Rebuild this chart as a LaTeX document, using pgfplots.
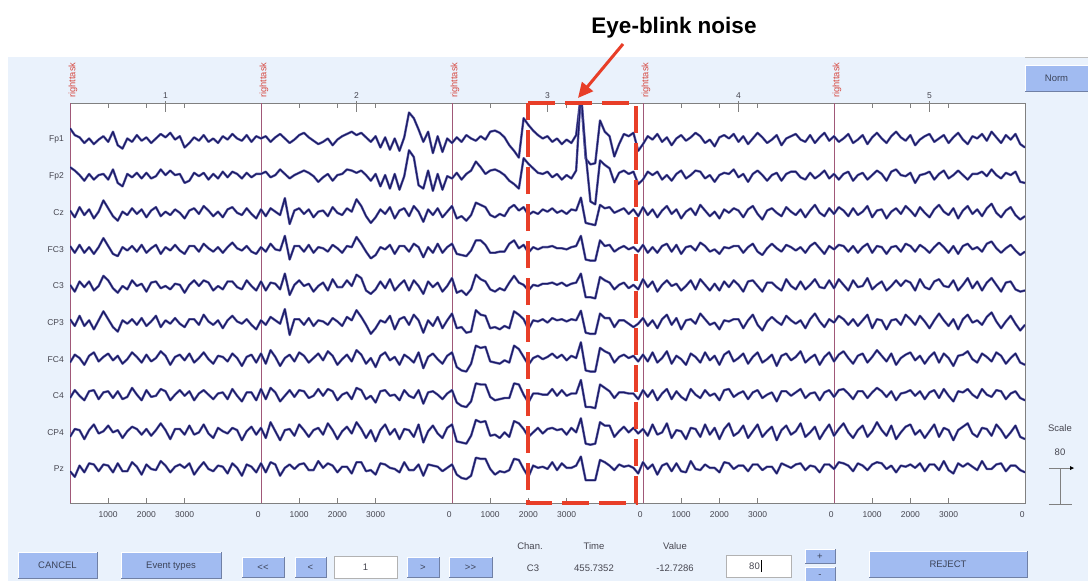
\documentclass[border=0pt]{standalone}
\usepackage{fontspec}
\setmainfont{Liberation Sans}
\usepackage{pgfplots}
\pgfplotsset{compat=1.18}
\usepackage{pgfplotstable}
\usetikzlibrary{arrows.meta}

\definecolor{cPanel}{RGB}{234,242,252}
\definecolor{cBtn}{RGB}{161,187,241}
\definecolor{cBtnEdge}{RGB}{112,128,165}
\definecolor{cBtnText}{RGB}{60,68,90}
\definecolor{cTrace}{RGB}{26,26,100}
\definecolor{cHalo}{RGB}{100,100,172}
\definecolor{cEvt}{RGB}{160,88,120}
\definecolor{cEvtLabel}{RGB}{214,72,64}
\definecolor{cFrame}{RGB}{128,128,128}
\definecolor{cTxt}{RGB}{70,70,80}
\definecolor{cBlink}{RGB}{232,62,40}

% EEG samples (microvolts), 40 samples per epoch, 5 epochs
\pgfplotstableread[row sep=\\]{v\\
20\\8\\4\\-6\\2\\-8\\0\\6\\-4\\14\\-10\\-16\\2\\-4\\8\\-2\\4\\-6\\2\\10\\4\\12\\0\\6\\-14\\-6\\4\\-2\\8\\-4\\2\\-6\\6\\0\\10\\2\\-2\\8\\-4\\6\\
2\\6\\-4\\4\\10\\2\\-6\\0\\8\\12\\4\\-2\\-8\\-4\\2\\-10\\0\\6\\10\\14\\8\\12\\4\\-4\\6\\-14\\4\\-18\\2\\-20\\4\\48\\38\\18\\-4\\14\\-24\\6\\-22\\2\\
-6\\4\\-4\\8\\2\\-2\\6\\0\\14\\16\\12\\4\\-10\\-20\\-32\\38\\26\\16\\8\\2\\6\\-4\\2\\-8\\0\\-6\\8\\80\\-34\\-44\\-42\\34\\14\\6\\-30\\-8\\10\\6\\12\\-20\\
-8\\6\\0\\10\\-4\\4\\-10\\2\\8\\-2\\4\\12\\6\\-6\\0\\-12\\4\\8\\2\\10\\-4\\6\\-8\\2\\12\\4\\-6\\0\\8\\-10\\2\\6\\10\\0\\-4\\8\\-6\\4\\12\\-2\\
6\\-4\\2\\10\\-6\\0\\8\\-8\\4\\12\\2\\-6\\6\\14\\4\\-2\\8\\-10\\0\\6\\10\\-4\\2\\8\\-6\\4\\12\\0\\-8\\6\\2\\10\\-2\\14\\4\\-6\\8\\0\\10\\-8\\-14\\
}\tFpone
\pgfplotstableread[row sep=\\]{v\\
16\\10\\2\\-8\\4\\-6\\2\\4\\-6\\12\\-12\\-18\\4\\-2\\6\\-4\\6\\-4\\0\\12\\2\\10\\2\\4\\-12\\-8\\6\\0\\6\\-6\\4\\-4\\8\\-2\\8\\4\\-4\\6\\-2\\4\\
4\\8\\-2\\2\\12\\4\\-4\\2\\6\\10\\6\\0\\-10\\-2\\4\\-8\\2\\4\\12\\10\\6\\10\\2\\-8\\4\\-18\\2\\-22\\4\\-24\\0\\46\\34\\-16\\-22\\10\\-26\\4\\-24\\0\\
-4\\6\\-6\\4\\10\\26\\16\\4\\10\\12\\8\\2\\-8\\-14\\-22\\32\\22\\14\\6\\4\\8\\-2\\4\\-6\\2\\-4\\10\\150\\40\\-45\\-50\\28\\20\\14\\-11\\6\\10\\4\\8\\-14\\
-6\\8\\2\\8\\-6\\2\\-8\\4\\10\\-4\\2\\10\\8\\-4\\2\\-10\\2\\6\\4\\12\\-2\\4\\-10\\4\\10\\2\\-8\\2\\6\\-8\\4\\8\\8\\-2\\-6\\6\\-4\\2\\10\\-4\\
4\\-6\\4\\8\\-8\\2\\6\\-6\\2\\10\\4\\-8\\8\\12\\2\\0\\6\\-12\\2\\4\\8\\-6\\4\\10\\-4\\2\\10\\2\\-6\\4\\4\\8\\0\\12\\2\\-4\\6\\2\\8\\-10\\-12\\
}\tFptwo
\pgfplotstableread[row sep=\\]{v\\
4\\-8\\10\\-4\\6\\-10\\2\\22\\8\\-6\\-14\\2\\-4\\8\\-2\\6\\-8\\4\\10\\-6\\2\\-4\\6\\0\\-10\\4\\8\\-2\\12\\4\\-6\\2\\-8\\6\\10\\0\\-4\\8\\-2\\-10\\
6\\-6\\8\\2\\-4\\26\\-20\\4\\8\\-2\\6\\-8\\2\\4\\-6\\10\\0\\-4\\8\\2\\24\\12\\-6\\-18\\-8\\6\\-2\\10\\-10\\4\\8\\-6\\12\\2\\-16\\6\\-4\\8\\-8\\2\\
12\\-10\\-6\\-14\\-4\\18\\14\\10\\-4\\-8\\-2\\-6\\8\\14\\4\\10\\-4\\2\\-2\\6\\2\\8\\0\\4\\-2\\6\\4\\27\\-18\\-20\\-22\\14\\8\\10\\0\\4\\8\\-2\\6\\-6\\
10\\-4\\6\\-8\\4\\12\\-2\\6\\-10\\2\\8\\-4\\14\\4\\-6\\2\\-10\\6\\0\\8\\4\\-8\\6\\12\\-2\\-12\\4\\8\\0\\-6\\10\\2\\-4\\6\\-8\\4\\14\\0\\-6\\8\\
-2\\10\\4\\-6\\8\\-4\\2\\12\\-8\\4\\6\\-10\\2\\8\\-2\\12\\4\\-6\\10\\0\\-8\\6\\14\\2\\-4\\8\\-10\\4\\12\\-2\\6\\-6\\8\\16\\0\\-8\\4\\10\\-4\\-12\\-6\\
}\tCz
\pgfplotstableread[row sep=\\]{v\\
6\\-6\\8\\-6\\4\\-8\\4\\20\\6\\-8\\-12\\4\\-2\\6\\-4\\8\\-6\\2\\8\\-8\\4\\-2\\8\\-2\\-8\\6\\6\\-4\\10\\2\\-4\\4\\-6\\4\\12\\2\\-2\\6\\-4\\-8\\
4\\-4\\10\\0\\-2\\24\\-18\\6\\6\\-4\\8\\-6\\4\\2\\-4\\8\\2\\-6\\6\\4\\22\\10\\-4\\-16\\-10\\4\\0\\8\\-8\\6\\6\\-4\\10\\4\\-14\\4\\-6\\10\\-6\\4\\
10\\-8\\-10\\-12\\-2\\16\\16\\8\\-6\\-6\\-4\\-4\\10\\16\\2\\8\\-6\\4\\0\\4\\4\\6\\2\\2\\0\\4\\6\\24\\-18\\-20\\-20\\16\\6\\8\\-4\\2\\6\\0\\4\\-4\\
8\\-6\\4\\-6\\6\\10\\-4\\8\\-8\\4\\6\\-2\\12\\6\\-4\\0\\-8\\4\\2\\6\\6\\-6\\4\\10\\-4\\-10\\2\\10\\2\\-4\\8\\4\\-2\\4\\-6\\6\\12\\2\\-8\\6\\
0\\8\\6\\-4\\6\\-6\\4\\10\\-6\\6\\4\\-8\\4\\6\\-4\\10\\6\\-4\\8\\2\\-6\\4\\12\\4\\-6\\6\\-8\\6\\10\\0\\4\\-4\\10\\14\\2\\-6\\2\\8\\-2\\-10\\-4\\
}\tFCthree
\pgfplotstableread[row sep=\\]{v\\
2\\-10\\8\\-2\\8\\-8\\0\\18\\10\\-4\\-12\\0\\-6\\10\\0\\4\\-10\\6\\8\\-4\\0\\-6\\4\\2\\-12\\2\\10\\0\\10\\6\\-8\\0\\-6\\8\\8\\-2\\-6\\10\\0\\-8\\
8\\-8\\6\\4\\-6\\22\\-16\\2\\10\\0\\4\\-10\\0\\6\\-8\\12\\-2\\-2\\10\\0\\20\\14\\-8\\-14\\-6\\8\\-4\\12\\-8\\2\\10\\-8\\10\\0\\-14\\8\\-2\\6\\-10\\0\\
14\\-12\\-8\\-16\\-6\\20\\12\\8\\-6\\-10\\-4\\-8\\6\\18\\6\\2\\-8\\2\\0\\4\\4\\6\\2\\6\\0\\4\\6\\22\\-20\\-20\\-22\\16\\10\\6\\-6\\2\\6\\-4\\2\\-6\\
12\\-2\\8\\-10\\2\\10\\0\\4\\-8\\0\\10\\-6\\12\\2\\-8\\4\\-8\\8\\-2\\10\\2\\-10\\8\\10\\0\\-10\\6\\6\\-2\\-8\\12\\0\\-6\\8\\-6\\2\\12\\-2\\-4\\10\\
-4\\12\\2\\-8\\10\\-2\\0\\14\\-6\\2\\8\\-8\\0\\10\\0\\10\\6\\-8\\12\\-2\\-6\\8\\12\\0\\-2\\10\\-8\\2\\14\\-4\\8\\-8\\6\\14\\2\\-10\\6\\8\\-6\\-10\\-8\\
}\tCthree
\pgfplotstableread[row sep=\\]{v\\
6\\-6\\12\\-6\\4\\-12\\4\\20\\6\\-8\\-16\\4\\-2\\6\\-4\\8\\-6\\2\\12\\-8\\4\\-2\\8\\-2\\-8\\6\\6\\-4\\14\\2\\-4\\4\\-10\\4\\12\\2\\-2\\6\\-4\\-12\\
4\\-4\\10\\4\\-2\\24\\-22\\6\\6\\-4\\8\\-6\\4\\2\\-4\\8\\2\\-6\\10\\4\\22\\10\\-4\\-20\\-10\\4\\0\\12\\-12\\6\\10\\-4\\14\\4\\-18\\4\\-6\\10\\-10\\4\\
16\\-10\\-8\\-18\\-16\\22\\14\\12\\-10\\-8\\-12\\-6\\-10\\20\\14\\6\\-12\\4\\2\\6\\0\\8\\4\\6\\2\\6\\4\\21\\-18\\-20\\-20\\16\\8\\8\\-8\\4\\4\\-2\\-8\\-2\\
8\\-6\\4\\-10\\6\\14\\-4\\8\\-12\\4\\6\\-2\\16\\6\\-4\\0\\-12\\4\\2\\6\\6\\-10\\4\\14\\-4\\-14\\2\\10\\2\\-4\\12\\4\\-2\\4\\-10\\6\\16\\2\\-8\\6\\
0\\12\\6\\-4\\6\\-6\\4\\14\\-10\\6\\4\\-12\\4\\6\\-4\\14\\6\\-4\\12\\2\\-10\\4\\16\\4\\-6\\6\\-12\\6\\14\\0\\4\\-4\\10\\18\\2\\-10\\2\\12\\-2\\-14\\-4\\
}\tCPthree
\pgfplotstableread[row sep=\\]{v\\
-6\\8\\2\\-10\\6\\12\\-4\\4\\10\\-2\\6\\-8\\0\\12\\4\\-6\\8\\-4\\2\\14\\6\\-10\\4\\8\\-2\\10\\-6\\2\\12\\0\\-8\\6\\4\\-4\\10\\2\\-12\\4\\8\\-6\\
10\\-8\\16\\4\\-12\\2\\8\\-4\\12\\6\\-6\\2\\10\\-2\\14\\6\\-10\\0\\8\\-4\\16\\8\\-8\\2\\-14\\6\\12\\-2\\4\\-10\\8\\2\\-6\\12\\-16\\4\\10\\0\\-8\\6\\
12\\-14\\-20\\-22\\-8\\24\\20\\22\\-4\\-6\\-8\\-2\\-6\\24\\18\\4\\-10\\2\\6\\0\\4\\10\\2\\8\\-2\\6\\2\\30\\-20\\-22\\-22\\20\\14\\10\\-6\\4\\8\\2\\6\\-4\\
8\\-4\\12\\-6\\2\\14\\-8\\6\\0\\-10\\10\\4\\-6\\12\\-2\\6\\-10\\8\\14\\-4\\2\\10\\-8\\4\\12\\-6\\0\\8\\-12\\6\\10\\-2\\4\\14\\-6\\2\\8\\-10\\4\\12\\
-4\\8\\14\\2\\-8\\6\\10\\-6\\4\\16\\6\\-4\\10\\-10\\2\\8\\12\\-2\\6\\-8\\4\\12\\-6\\10\\2\\-12\\6\\8\\14\\0\\-6\\10\\4\\-4\\12\\6\\-8\\2\\10\\-6\\-10\\
}\tFCfour
\pgfplotstableread[row sep=\\]{v\\
-4\\10\\0\\-8\\8\\10\\-6\\6\\8\\-4\\8\\-6\\-2\\14\\2\\-8\\10\\-2\\0\\12\\8\\-8\\2\\10\\0\\8\\-8\\4\\10\\2\\-6\\4\\6\\-6\\12\\0\\-10\\6\\6\\-8\\
12\\-6\\14\\6\\-10\\0\\10\\-2\\10\\8\\-4\\0\\12\\0\\12\\8\\-8\\2\\6\\-6\\14\\10\\-6\\0\\-12\\8\\10\\0\\2\\-8\\10\\0\\-4\\10\\-14\\6\\8\\2\\-6\\4\\
10\\-12\\-18\\-20\\-10\\22\\20\\20\\-2\\-8\\-6\\-4\\-4\\22\\20\\2\\-12\\4\\4\\2\\2\\12\\0\\10\\0\\4\\4\\28\\-20\\-20\\-22\\20\\14\\8\\-4\\6\\6\\4\\4\\-6\\
10\\-2\\10\\-8\\4\\12\\-6\\8\\-2\\-8\\12\\2\\-4\\10\\0\\4\\-8\\10\\12\\-2\\4\\8\\-6\\6\\10\\-4\\2\\6\\-10\\8\\8\\0\\6\\12\\-4\\4\\6\\-8\\6\\10\\
-2\\10\\12\\4\\-6\\8\\8\\-4\\6\\14\\8\\-2\\8\\-8\\4\\6\\10\\0\\8\\-6\\6\\10\\-4\\12\\0\\-10\\8\\6\\12\\2\\-4\\12\\2\\-2\\10\\8\\-6\\4\\8\\-4\\-8\\
}\tCfour
\pgfplotstableread[row sep=\\]{v\\
-8\\6\\4\\-12\\4\\14\\-2\\2\\12\\0\\4\\-10\\2\\10\\6\\-4\\6\\-6\\4\\16\\4\\-12\\6\\6\\-4\\12\\-4\\0\\14\\-2\\-10\\8\\2\\-2\\8\\4\\-14\\2\\10\\-4\\
8\\-10\\18\\2\\-14\\4\\6\\-6\\14\\4\\-8\\4\\8\\-4\\16\\4\\-12\\2\\10\\-2\\18\\6\\-10\\4\\-16\\4\\14\\-4\\6\\-12\\6\\4\\-8\\14\\-18\\2\\12\\-2\\-10\\8\\
14\\-16\\-18\\-20\\-6\\22\\18\\20\\-6\\-4\\-10\\0\\-8\\20\\16\\6\\-8\\0\\8\\-2\\6\\8\\4\\6\\-4\\8\\0\\25\\-20\\-22\\-20\\18\\12\\12\\-8\\2\\10\\0\\8\\-2\\
6\\-6\\14\\-4\\0\\16\\-10\\4\\2\\-12\\8\\6\\-8\\14\\-4\\8\\-12\\6\\16\\-6\\0\\12\\-10\\2\\14\\-8\\2\\10\\-14\\4\\12\\-4\\2\\16\\-8\\0\\10\\-12\\2\\14\\
-6\\6\\16\\0\\-10\\4\\12\\-8\\2\\18\\4\\-6\\12\\-12\\0\\10\\14\\-4\\4\\-10\\2\\14\\-8\\8\\4\\-14\\4\\10\\16\\-2\\-8\\8\\6\\-6\\14\\4\\-10\\0\\12\\-8\\-12\\
}\tCPfour
\pgfplotstableread[row sep=\\]{v\\
-4\\-14\\6\\-6\\10\\8\\-4\\8\\6\\-6\\10\\-4\\-4\\12\\4\\-10\\8\\0\\-2\\14\\6\\-6\\4\\8\\2\\10\\-10\\2\\12\\0\\-4\\6\\4\\-8\\10\\2\\-12\\8\\4\\-6\\
10\\-6\\12\\8\\-12\\2\\8\\0\\8\\10\\-2\\-2\\14\\2\\10\\6\\-6\\4\\4\\-8\\12\\12\\-4\\-2\\-10\\10\\8\\2\\0\\-6\\12\\-2\\-2\\8\\-12\\8\\6\\4\\-4\\2\\
8\\-10\\-16\\-18\\-12\\20\\18\\18\\0\\-10\\-4\\-6\\-2\\18\\16\\0\\-14\\6\\2\\4\\0\\12\\-2\\10\\2\\2\\6\\22\\-20\\-20\\-20\\16\\12\\6\\-2\\8\\4\\6\\2\\-8\\
12\\0\\8\\-10\\6\\10\\-4\\10\\-4\\-6\\14\\0\\-2\\8\\2\\2\\-6\\12\\10\\0\\6\\6\\-4\\8\\8\\-2\\4\\4\\-8\\10\\6\\2\\8\\10\\-2\\6\\4\\-6\\8\\8\\
0\\12\\10\\6\\-4\\10\\6\\-2\\8\\12\\10\\0\\6\\-6\\6\\4\\8\\2\\10\\-4\\8\\8\\-2\\14\\-2\\-8\\10\\4\\10\\4\\-2\\14\\0\\0\\8\\10\\-4\\6\\6\\-2\\-6\\
}\tPz

\newcommand\guibtn[5]{%
  \fill[cBtn] (#1,#2) rectangle (#3,#4);
  \draw[cBtnEdge, line width=0.8pt] (#3,#2) -- (#3,#4) -- (#1,#4);
  \draw[white, line width=0.8pt] (#1,#4) -- (#1,#2) -- (#3,#2);
  \node[font=\fontsize{9.5}{11}\selectfont, text=cBtnText, text height=1.6ex, text depth=0.3ex]
    at ({(#1+#3)/2},{(#2+#4)/2}) {#5};}
\newcommand\guibox[5]{%
  \fill[white] (#1,#2) rectangle (#3,#4);
  \draw[gray!60, line width=0.6pt] (#1,#2) rectangle (#3,#4);
  \node[font=\fontsize{9.5}{11}\selectfont, text=cTxt] at ({(#1+#3)/2},{(#2+#4)/2}) {#5};}

% one channel: samples of table #1 drawn around baseline #2 (65 uV per row spacing)
\newcommand\eegchan[2]{%
  \addplot[color=cHalo, line width=2.4pt, line join=round]
    table[x index=0, y index=0, x expr=\coordindex/40, y expr=#2+\thisrow{v}/65] {#1};
  \addplot[color=cTrace, line width=1.2pt, line join=round]
    table[x index=0, y index=0, x expr=\coordindex/40, y expr=#2+\thisrow{v}/65] {#1};}

\begin{document}
\begin{tikzpicture}
\begin{scope}[x=1pt,y=-1pt]
  \path[use as bounding box] (0,0) rectangle (1088,581);
  \fill[white] (0,0) rectangle (1088,581);
  \fill[cPanel] (8,57) rectangle (1088,581);
  \draw[gray!50, line width=0.6pt] (1025,57) -- (1088,57);
  % buttons and fields
  \guibtn{1025}{65}{1088}{91}{Norm}
  \guibtn{18}{552}{97}{578}{CANCEL}
  \guibtn{121}{552}{221}{578}{Event types}
  \guibtn{242}{557}{284}{577}{<\kern0pt<}
  \guibtn{295}{557}{326}{577}{<}
  \guibox{334}{556}{397}{578}{1}
  \guibtn{407}{557}{439}{577}{>}
  \guibtn{449}{557}{492}{577}{>\kern0pt>}
  \fill[white] (726,555) rectangle (791,577);
  \draw[gray!60, line width=0.6pt] (726,555) rectangle (791,577);
  \node[font=\fontsize{9.5}{11}\selectfont, text=cTxt, anchor=east, inner sep=0pt] at (760,566) {80};
  \draw[black, line width=0.6pt] (761,560) -- (761,572);
  \guibtn{805}{549}{835}{563}{+}
  \guibtn{805}{567}{835}{581}{-}
  \guibtn{869}{551}{1027}{577}{REJECT}
  \begin{scope}[font=\fontsize{9.5}{11}\selectfont, text=cTxt]
    \node at (530,546) {Chan.};
    \node at (533,568) {C3};
    \node at (594,546) {Time};
    \node at (594,568) {455.7352};
    \node at (675,546) {Value};
    \node at (675,568) {-12.7286};
    \node at (1060,428) {Scale};
    \node at (1060,452) {80};
  \end{scope}
  % amplitude scale bar
  \draw[cFrame, line width=0.8pt] (1049,468) -- (1072,468) (1060,468) -- (1060,504) (1049,504) -- (1072,504);
  \fill[black] (1070,466) -- (1074,468) -- (1070,470) -- cycle;
\end{scope}

\begin{axis}[
  at={(70pt,-503pt)}, anchor=south west,
  scale only axis, width=955pt, height=400pt,
  xmin=0, xmax=5, ymin=0.07, ymax=11,
  clip=true, clip mode=individual,
  axis background/.style={fill=white},
  axis line style={draw=cFrame, line width=0.8pt},
  every tick/.style={draw=cFrame, line width=0.8pt},
  major tick length=5pt,
  xtick pos=both, xticklabel pos=lower,
  xtick={0.2,0.4,0.6,1.2,1.4,1.6,2.2,2.4,2.6,3.2,3.4,3.6,4.2,4.4,4.6},
  xticklabels={1000,2000,3000,1000,2000,3000,1000,2000,3000,1000,2000,3000,1000,2000,3000},
  extra x ticks={0.985,1.985,2.985,3.985,4.985},
  extra x tick labels={0,0,0,0,0},
  extra x tick style={major tick length=0pt},
  xticklabel style={font=\fontsize{8.5}{10}\selectfont, text=cTxt, inner sep=0pt, yshift=-8pt},
  ytick={1,2,3,4,5,6,7,8,9,10},
  yticklabels={Pz,CP4,C4,FC4,CP3,C3,FC3,Cz,Fp2,Fp1},
  ytick style={draw=none},
  yticklabel style={font=\fontsize{8.5}{10}\selectfont, text=cTxt, inner sep=0pt, xshift=-6pt},
]
  % event markers
  \pgfplotsinvokeforeach{0,1,2,3,4}{
    \draw[cEvt, line width=1pt] (axis cs:#1,0.07) -- (axis cs:#1,11);
    \node[rotate=90, anchor=west, inner sep=0pt, text=cEvtLabel,
          font=\fontsize{9.3}{11}\selectfont]
      at ([xshift=3pt, yshift=5pt]axis cs:#1,11) {righttask};
  }
  % epoch numbers along the top
  \pgfplotsinvokeforeach{1,2,3,4,5}{
    \draw[cFrame, line width=0.8pt] ([yshift=2pt]axis cs:#1-0.5,11) -- ([yshift=-9pt]axis cs:#1-0.5,11);
    \node[anchor=base, inner sep=0pt, text=cTxt, font=\fontsize{8.5}{10}\selectfont]
      at ([yshift=5pt]axis cs:#1-0.5,11) {#1};
  }
  \eegchan{\tFpone}{10}
  \eegchan{\tFptwo}{9}
  \eegchan{\tCz}{8}
  \eegchan{\tFCthree}{7}
  \eegchan{\tCthree}{6}
  \eegchan{\tCPthree}{5}
  \eegchan{\tFCfour}{4}
  \eegchan{\tCfour}{3}
  \eegchan{\tCPfour}{2}
  \eegchan{\tPz}{1}
\end{axis}

\begin{scope}[x=1pt,y=-1pt]
  % highlighted artefact window
  \draw[cBlink, line width=3.5pt, dash pattern=on 27pt off 10pt]
    (528,103) -- (636,103) -- (636,503) -- (528,503) -- cycle;
  \draw[cBlink, line width=3pt, -{Triangle[length=15pt, width=14pt]}] (623,44) -- (578,98);
  \node[anchor=base, font=\bfseries\fontsize{22.5}{27}\selectfont] at (674,33) {Eye-blink noise};
\end{scope}
\end{tikzpicture}
\end{document}
